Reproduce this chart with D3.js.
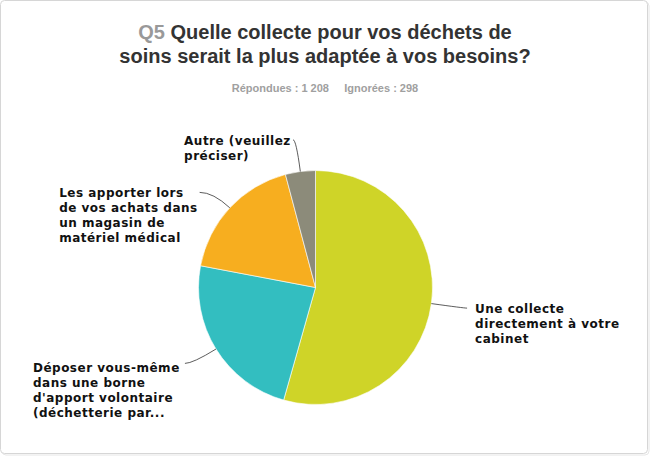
<!DOCTYPE html>
<html>
<head>
<meta charset="utf-8">
<script src="https://cdn.jsdelivr.net/npm/d3@7/dist/d3.min.js"></script>
<style>
  html, body { margin: 0; padding: 0; background: #fff; }
  svg { display: block; }
</style>
</head>
<body>
<svg id="chart" width="650" height="456"></svg>
<script>
// ---- data ----
const categories = [
  ["Une collecte", "directement à votre", "cabinet"],
  ["Déposer vous-même", "dans une borne", "d'apport volontaire", "(déchetterie par..."],
  ["Les apporter lors", "de vos achats dans", "un magasin de", "matériel médical"],
  ["Autre (veuillez", "préciser)"]
];
const values = [54.39, 23.59, 17.88, 4.14];
const colors = ["#cfd428", "#33bec0", "#f7ae1f", "#8c8b7a"];
const titleQ = "Q5";
const titleLines = ["Quelle collecte pour vos déchets de", "soins serait la plus adaptée à vos besoins?"];
const answered = "Répondues : 1 208";
const skipped = "Ignorées : 298";

// ---- layout (not data) ----
const W = 650, H = 456;
const cx = 315.5, cy = 287.5, R = 117, Rlabel = 150;
// nudges of leader end, and text offset from leader end
const leaderNudge = [[3, 0], [-3, -3], [-6, 7], [-3, 1]];
const textOffset = [[8, 5], [-152, 9], [-140.5, 5], [-109, 5]];

const svg = d3.select("#chart");

// frame
svg.append("rect").attr("x", 2).attr("y", 2).attr("width", W - 3).attr("height", H - 3)
  .attr("rx", 4).attr("fill", "none").attr("stroke", "#e6e6e6");
svg.append("rect").attr("x", 0.5).attr("y", 0.5).attr("width", W - 3).attr("height", H - 3)
  .attr("rx", 4).attr("fill", "#fff").attr("stroke", "#d6d6d6");

// title
const title = svg.append("text").attr("text-anchor", "middle")
  .attr("font-family", "Liberation Sans, Arial, sans-serif").attr("font-weight", "bold")
  .attr("font-size", 20).attr("fill", "#333");
const t1 = title.append("tspan").attr("x", W / 2).attr("y", 39);
t1.append("tspan").attr("fill", "#999").text(titleQ + " ");
t1.append("tspan").text(titleLines[0]);
title.append("tspan").attr("x", W / 2).attr("y", 63).text(titleLines[1]);

// subtitle
svg.append("text").attr("x", W / 2).attr("y", 92).attr("text-anchor", "middle")
  .attr("font-family", "Liberation Sans Narrow, Arial Narrow, Liberation Sans, sans-serif")
  .attr("font-weight", "bold").attr("font-size", 11).attr("fill", "#a0a0a0")
  .attr("xml:space", "preserve")
  .text(answered + "     " + skipped);

// pie
const pie = d3.pie().sort(null).value(d => d);
const arcs = pie(values);
const arc = d3.arc().innerRadius(0).outerRadius(R);
const g = svg.append("g").attr("transform", `translate(${cx},${cy})`);
g.selectAll("path.slice").data(arcs).join("path").attr("class", "slice")
  .attr("d", arc).attr("fill", (d, i) => colors[i])
  .attr("stroke", "#fff").attr("stroke-width", 0.6);

const polar = (r, a) => [r * Math.sin(a), -r * Math.cos(a)];

arcs.forEach((d, i) => {
  const mid = (d.startAngle + d.endAngle) / 2;
  const p0 = polar(R, mid);
  const pl = polar(Rlabel, mid);
  const end = [pl[0] + leaderNudge[i][0], pl[1] + leaderNudge[i][1]];
  // control point: on the radial line at the height of the end point
  const dirx = Math.sin(mid), diry = -Math.cos(mid);
  let t = Math.abs(diry) > 0.05 ? (end[1]) / diry : Rlabel;
  t = Math.max(R, Math.min(t, Rlabel + 20));
  const c = [dirx * t, diry * t];
  g.append("path")
    .attr("d", `M${p0[0]},${p0[1]}Q${c[0]},${c[1]} ${end[0]},${end[1]}`)
    .attr("fill", "none").attr("stroke", "#333").attr("stroke-width", 0.8);

  const tx = end[0] + textOffset[i][0], ty = end[1] + textOffset[i][1];
  const txt = g.append("text")
    .attr("font-family", "DejaVu Sans, Verdana, sans-serif")
    .attr("font-weight", "bold").attr("font-size", 12).attr("letter-spacing", 0.5)
    .attr("fill", "#111");
  categories[i].forEach((line, j) => {
    txt.append("tspan").attr("x", tx).attr("y", ty + j * 15).text(line);
  });
});
</script>
</body>
</html>
